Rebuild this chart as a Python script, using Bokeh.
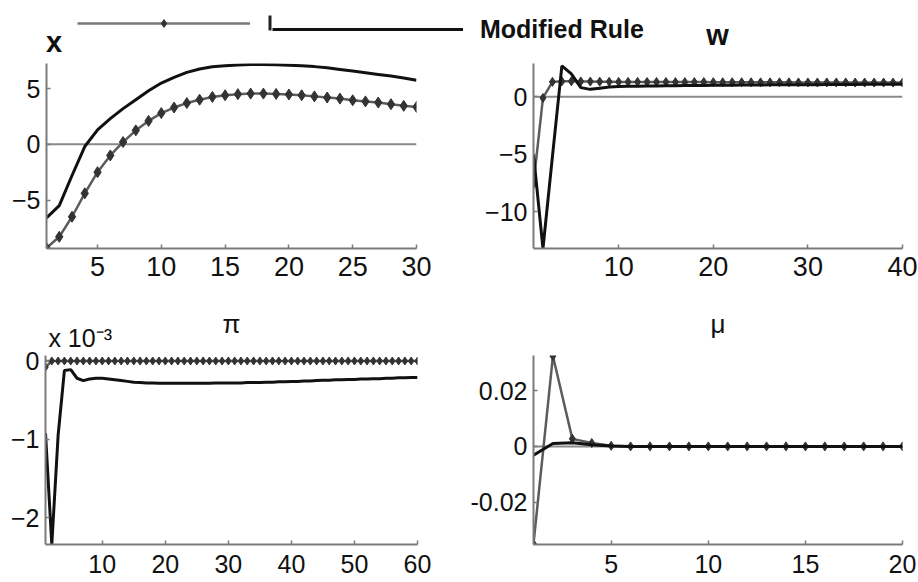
from bokeh.plotting import figure
from bokeh.layouts import column, row
from bokeh.models import (Range1d, Span, Label, Legend, LegendItem,
                          FixedTicker, BoxAnnotation, LinearAxis)
from bokeh.embed import file_html
from bokeh.resources import INLINE

# ---------------- data ----------------
x_periods = list(range(1, 31))
x_modified = [-6.6, -5.5, -2.8, -0.2, 1.3, 2.3, 3.2, 4.0, 4.8, 5.5,
              6.0, 6.45, 6.75, 6.95, 7.05, 7.12, 7.15, 7.15, 7.13, 7.1,
              7.05, 6.97, 6.87, 6.72, 6.57, 6.42, 6.27, 6.12, 5.95, 5.75]
x_taylor = [-9.3, -8.3, -6.5, -4.4, -2.5, -1.0, 0.2, 1.25, 2.1, 2.8,
            3.3, 3.7, 4.0, 4.25, 4.4, 4.5, 4.55, 4.55, 4.52, 4.47,
            4.4, 4.3, 4.2, 4.1, 3.95, 3.85, 3.75, 3.6, 3.45, 3.35]

w_periods = list(range(1, 41))
w_modified = [-5.0, -13.2, -5.2, 2.7, 2.0, 0.8, 0.65, 0.75, 0.85, 0.9,
              0.92, 0.93, 0.94, 0.95, 0.96, 0.97, 0.98, 0.98, 0.99, 1.0,
              1.0, 1.01, 1.02, 1.02, 1.03, 1.04, 1.04, 1.05, 1.05, 1.06,
              1.06, 1.07, 1.07, 1.08, 1.08, 1.09, 1.09, 1.1, 1.1, 1.1]
w_taylor = [-7.6, -0.1, 1.3, 1.35, 1.35, 1.34, 1.33, 1.32, 1.31, 1.3,
            1.3, 1.3, 1.29, 1.29, 1.29, 1.28, 1.28, 1.28, 1.28, 1.27,
            1.27, 1.27, 1.27, 1.26, 1.26, 1.26, 1.26, 1.26, 1.25, 1.25,
            1.25, 1.25, 1.25, 1.25, 1.24, 1.24, 1.24, 1.24, 1.24, 1.24]

pi_periods = list(range(1, 61))
# values in units of 10^-3
pi_modified = [-0.92, -2.34, -0.95, -0.12, -0.11, -0.22, -0.25, -0.23, -0.22, -0.22,
               -0.23, -0.24, -0.25, -0.26, -0.27, -0.275, -0.28, -0.28, -0.285, -0.285,
               -0.285, -0.285, -0.285, -0.285, -0.285, -0.285, -0.285, -0.28, -0.28, -0.28,
               -0.28, -0.28, -0.275, -0.275, -0.275, -0.27, -0.27, -0.265, -0.265, -0.26,
               -0.26, -0.255, -0.255, -0.25, -0.245, -0.245, -0.24, -0.24, -0.235, -0.235,
               -0.23, -0.23, -0.225, -0.225, -0.22, -0.22, -0.215, -0.215, -0.21, -0.21]
pi_taylor = [-0.08, 0.0, 0.0, 0.0, 0.0, 0.0, 0.0, 0.0, 0.0, 0.0,
             0.0, 0.0, 0.0, 0.0, 0.0, 0.0, 0.0, 0.0, 0.0, 0.0,
             0.0, 0.0, 0.0, 0.0, 0.0, 0.0, 0.0, 0.0, 0.0, 0.0,
             0.0, 0.0, 0.0, 0.0, 0.0, 0.0, 0.0, 0.0, 0.0, 0.0,
             0.0, 0.0, 0.0, 0.0, 0.0, 0.0, 0.0, 0.0, 0.0, 0.0,
             0.0, 0.0, 0.0, 0.0, 0.0, 0.0, 0.0, 0.0, 0.0, 0.0]

mu_periods = list(range(1, 21))
mu_modified = [-0.0032, 0.001, 0.0013, 0.0006, 0.0001, 0.0, 0.0, 0.0, 0.0, 0.0,
               0.0, 0.0, 0.0, 0.0, 0.0, 0.0, 0.0, 0.0, 0.0, 0.0]
mu_taylor = [-0.035, 0.0324, 0.0027, 0.0012, 0.0002, 0.0, 0.0, 0.0, 0.0, 0.0,
             0.0, 0.0, 0.0, 0.0, 0.0, 0.0, 0.0, 0.0, 0.0, 0.0]

x_ticks = [5, 10, 15, 20, 25, 30]
x_yticks = [-5, 0, 5]
w_ticks = [10, 20, 30, 40]
w_yticks = [-10, -5, 0]
pi_ticks = [10, 20, 30, 40, 50, 60]
pi_yticks = [-2, -1, 0]
mu_ticks = [5, 10, 15, 20]
mu_yticks = [-0.02, 0, 0.02]

legend_label = "Modified Rule"
titles = ["x", "w", "\u03c0", "\u03bc"]
scale_text = "x 10\u207b\u00b3"

# ---------------- style ----------------
FONT = "Liberation Sans"
AXIS_COLOR = "#7a7a7a"
TAYLOR_LINE = "#5c5c5c"
TAYLOR_MARK = "#333333"
MOD_COLOR = "#111111"
NAN = float("nan")


def make_panel(width, height, bl, br, bt, bb, xr, yr, xticks, yticks,
               xfont, yfont, xstand):
    p = figure(width=width, height=height, x_range=Range1d(*xr),
               y_range=Range1d(*yr), output_backend="svg", title=None,
               toolbar_location=None, min_border_left=bl,
               min_border_right=br, min_border_top=bt, min_border_bottom=bb)
    p.outline_line_color = None
    p.xgrid.visible = False
    p.ygrid.visible = False
    p.xaxis.ticker = FixedTicker(ticks=xticks)
    p.yaxis.ticker = FixedTicker(ticks=yticks)
    for ax in (p.xaxis[0], p.yaxis[0]):
        ax.axis_line_color = AXIS_COLOR
        ax.axis_line_width = 2
        ax.major_tick_line_color = AXIS_COLOR
        ax.major_tick_line_width = 1.5
        ax.major_tick_in = 4
        ax.major_tick_out = 0
        ax.minor_tick_line_color = None
        ax.major_label_text_font = FONT
        ax.major_label_text_color = "#111111"
    p.xaxis.major_label_text_font_size = xfont
    p.yaxis.major_label_text_font_size = yfont
    p.xaxis.major_label_standoff = xstand
    p.yaxis.major_label_standoff = 6
    p.add_layout(Span(location=0, dimension="width", line_color="#8a8a8a",
                      line_width=2, level="underlay"))
    return p


def top_text_axis(p, at, label, size, standoff):
    """A bare axis above the frame that only carries a text."""
    ax = LinearAxis(ticker=FixedTicker(ticks=[at]),
                    major_label_overrides={at: label},
                    axis_line_color=None, major_tick_line_color=None,
                    minor_tick_line_color=None, major_tick_in=0,
                    major_tick_out=0, major_label_standoff=standoff,
                    major_label_text_font=FONT,
                    major_label_text_font_size=size,
                    major_label_text_color="#111111")
    p.add_layout(ax, "above")
    return ax


def draw(p, t, taylor, modified, msize):
    p.line(t, taylor, line_color=TAYLOR_LINE, line_width=2.5)
    p.scatter(t, taylor, marker="diamond", size=msize,
              fill_color=TAYLOR_MARK, line_color=TAYLOR_MARK)
    p.line(t, modified, line_color=MOD_COLOR, line_width=3)


def strip_fig(height, y0):
    s = figure(width=918, height=height, x_range=Range1d(0, 918),
               y_range=Range1d(y0 + height, y0), output_backend="svg",
               title=None, toolbar_location=None, x_axis_location=None,
               y_axis_location=None, min_border=0)
    s.outline_line_color = None
    s.xgrid.visible = False
    s.ygrid.visible = False
    return s


def text(s, x, y, t, size, align="center", bold=False):
    s.add_layout(Label(x=x, y=y, text=t, text_align=align,
                       text_baseline="middle", text_font=FONT,
                       text_font_style="bold" if bold else "normal",
                       text_font_size=size, text_color="#111111"))


# top strip (y 0-60) with legend and upper titles
top = strip_fig(60, 0)
r_tl = top.line([NAN], [NAN], line_color="#777777", line_width=2.5)
r_tm = top.scatter([NAN], [NAN], marker="diamond", size=10,
                   fill_color=TAYLOR_MARK, line_color=TAYLOR_MARK)
r_mod = top.line([NAN], [NAN], line_color=MOD_COLOR, line_width=3)
leg1 = Legend(items=[LegendItem(label=" ", renderers=[r_tl, r_tm])],
              location=(77, 27), orientation="horizontal", glyph_width=173,
              glyph_height=20, label_height=20, padding=0, margin=0,
              spacing=0, label_standoff=0, label_text_font_size="10px",
              border_line_color=None, background_fill_alpha=0)
leg2 = Legend(items=[LegendItem(label=legend_label, renderers=[r_mod])],
              location=(272, 13), orientation="horizontal", glyph_width=191,
              glyph_height=36, padding=0, margin=0, spacing=0,
              label_standoff=17, label_text_font=FONT,
              label_text_font_style="bold", label_text_font_size="25px",
              label_text_color="#111111",
              border_line_color=None, background_fill_alpha=0)
top.add_layout(leg1)
top.add_layout(leg2)
top.add_layout(BoxAnnotation(left=268, right=271, top=15, bottom=30,
                             fill_color="#222222", fill_alpha=1,
                             line_color=None))
text(top, 53.5, 41, titles[0], "29px", bold=True)
text(top, 717, 34, titles[1], "29px", bold=True)

# panels
p1 = make_panel(450, 240, 46, 34, 3, 51, (1, 30), (-9.35, 7.25),
                x_ticks, x_yticks, "27px", "25px", 8)
draw(p1, x_periods, x_taylor, x_modified, 11)

p2 = make_panel(468, 240, 83, 16, 2, 52, (1, 40), (-13.2, 2.9),
                w_ticks, w_yticks, "27px", "25px", 8)
draw(p2, w_periods, w_taylor, w_modified, 9)

p3 = make_panel(450, 282, 45, 33, 55, 37, (1, 60), (-2.34, 0.07),
                pi_ticks, pi_yticks, "25px", "25px", 10)
draw(p3, pi_periods, pi_taylor, pi_modified, 8)
top_text_axis(p3, 6.5, scale_text, "25px", 4)
top_text_axis(p3, 30.5, titles[2], "26px", -18)

p4 = make_panel(468, 282, 83, 16, 55, 38, (1, 20), (-0.0352, 0.0326),
                mu_ticks, mu_yticks, "25px", "25px", 10)
p4.yaxis.major_label_overrides = {-0.02: "-0.02", 0: "0", 0.02: "0.02"}
draw(p4, mu_periods, mu_taylor, mu_modified, 9)
top_text_axis(p4, 10.5, titles[3], "26px", 17)

layout = column(top, row(p1, p2), row(p3, p4))

with open("out.html", "w") as f:
    f.write(file_html(layout, INLINE))
